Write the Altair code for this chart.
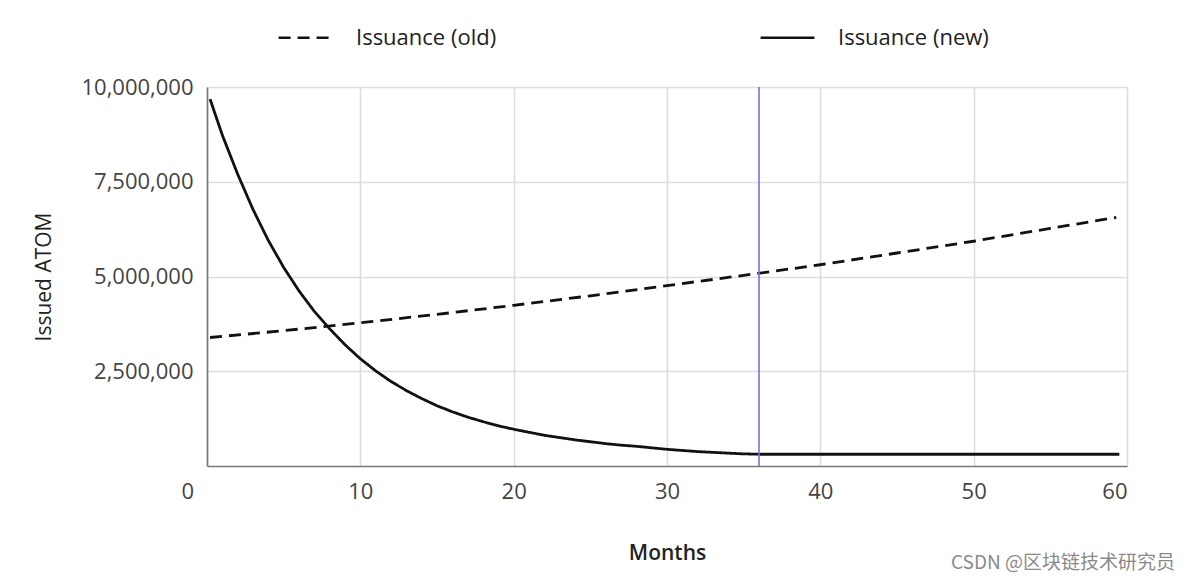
import altair as alt
import pandas as pd

# ---- data ----
months_new = [0.2, 1, 2, 3, 4, 5, 6, 7, 8, 9, 10, 11, 12, 13, 14, 15, 16, 17, 18, 19,
              20, 21, 22, 23, 24, 25, 26, 27, 28, 29, 30, 31, 32, 33, 34, 35, 36, 59.5]
issuance_new = [9.68, 8.73, 7.70, 6.77, 5.95, 5.24, 4.62, 4.08, 3.62, 3.20, 2.83, 2.51,
                2.23, 1.99, 1.78, 1.59, 1.43, 1.29, 1.17, 1.06, 0.97, 0.89, 0.81, 0.75,
                0.69, 0.64, 0.59, 0.55, 0.52, 0.48, 0.44, 0.41, 0.38, 0.36, 0.34, 0.32,
                0.31, 0.31]  # millions of ATOM

months_old = [0.2, 5, 10, 15, 20, 25, 30, 35, 40, 45, 50, 55, 59.3]
issuance_old = [3.39, 3.57, 3.78, 4.00, 4.24, 4.49, 4.76, 5.03, 5.31, 5.62, 5.93, 6.27, 6.56]

series_names = ["Issuance (old)", "Issuance (new)"]
marker_month = [36]
x_ticks = [0, 10, 20, 30, 40, 50, 60]
y_ticks = [2500000, 5000000, 7500000, 10000000]
watermark = ["CSDN @区块链技术研究员"]

rows = []
for m, v in zip(months_old, issuance_old):
    rows.append({"month": m, "value": v * 1e6, "series": series_names[0], "order": m})
for m, v in zip(months_new, issuance_new):
    rows.append({"month": m, "value": v * 1e6, "series": series_names[1], "order": m})
df = pd.DataFrame(rows)

FONT = "Open Sans"

lines = alt.Chart(df).mark_line(color="#111111", strokeWidth=2.8, clip=True).encode(
    x=alt.X("month:Q",
            scale=alt.Scale(domain=[0, 60], nice=False, zero=False),
            axis=alt.Axis(values=x_ticks, title="Months", grid=True, ticks=False,
                          labelPadding=15, titlePadding=40,
                          labelOffset={"condition": {"test": "datum.value === 0", "value": -26}, "value": 0})),
    y=alt.Y("value:Q",
            scale=alt.Scale(domain=[0, 10000000], nice=False),
            axis=alt.Axis(values=y_ticks, format=",d", title="Issued ATOM", grid=True,
                          ticks=False, labelPadding=14, titlePadding=26)),
    strokeDash=alt.StrokeDash("series:N",
                              scale=alt.Scale(domain=series_names, range=[[12, 7], [1, 0]]),
                              legend=alt.Legend(title=None, orient="none", direction="horizontal",
                                                legendX=70, legendY=-78,
                                                symbolType="stroke", symbolSize=2900,
                                                symbolStrokeWidth=2.6, symbolStrokeColor="#111111",
                                                labelOffset=22, columnPadding=258,
                                                labelFont=FONT, labelFontSize=22,
                                                labelColor="#222222")),
    detail="series:N",
    order="order:Q",
)

rule = alt.Chart(pd.DataFrame({"month": marker_month})).mark_rule(
    color="#7c6cea", strokeWidth=1.6).encode(x="month:Q")

wm = alt.Chart(pd.DataFrame({"t": watermark})).mark_text(
    font="Noto Sans CJK SC", fontSize=19, color="#8a8a8a", align="right", baseline="middle"
).encode(x=alt.value(968), y=alt.value(476), text="t:N")

chart = alt.layer(lines, rule, wm).properties(
    width=920, height=379,
    padding={"left": 199, "top": 79, "right": 50, "bottom": 112},
    autosize="none",
).configure_view(stroke=None).configure_axis(
    labelFont=FONT, labelFontSize=22, labelColor="#444444",
    titleFont=FONT, titleFontSize=21, titleColor="#222222",
    gridColor="#dddddd", gridWidth=1.6,
    domainColor="#777777", domainWidth=1.6,
).configure_axisX(titleFontWeight=600).configure_axisY(titleFontWeight="normal")

chart.save("out.html", embed_options={"renderer": "svg", "actions": False})
